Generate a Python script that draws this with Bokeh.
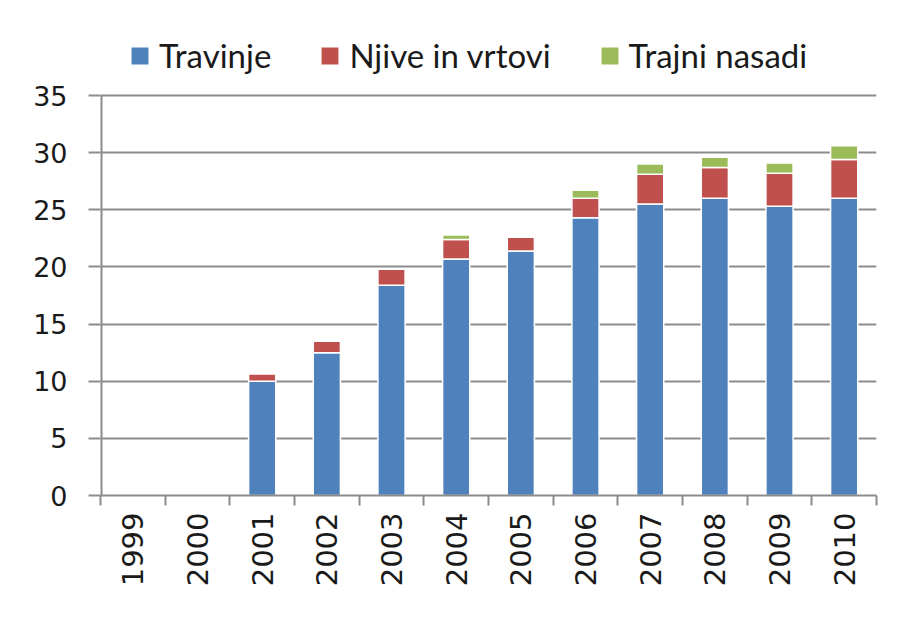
import numpy as np
from bokeh.plotting import figure
from bokeh.models import FixedTicker, Legend, LegendItem, Range1d, ColumnDataSource
from bokeh.embed import file_html
from bokeh.resources import INLINE

years = ["1999", "2000", "2001", "2002", "2003", "2004", "2005", "2006", "2007", "2008", "2009", "2010"]
travinje = [0, 0, 10.0, 12.5, 18.4, 20.7, 21.4, 24.3, 25.5, 26.0, 25.3, 26.0]
njive = [0, 0, 0.65, 1.0, 1.4, 1.7, 1.2, 1.7, 2.6, 2.7, 2.9, 3.4]
trajni = [0, 0, 0, 0, 0, 0.4, 0, 0.7, 0.9, 0.9, 0.9, 1.2]
series = ["Travinje", "Njive in vrtovi", "Trajni nasadi"]
colors = ["#4F81BD", "#C0504D", "#9BBB59"]
y_ticks = [0, 5, 10, 15, 20, 25, 30, 35]

xpos = [i + 0.5 for i in range(len(years))]
src = ColumnDataSource(dict(x=xpos, travinje=travinje, njive=njive, trajni=trajni))

# frame extends above the 35 line to hold the legend (65 px above it, 400 px for 0..35)
y_top = y_ticks[-1] * (400 + 65) / 400
p = figure(width=898, height=615, x_range=Range1d(0, len(years)), y_range=Range1d(0, y_top),
           output_backend="svg", toolbar_location=None,
           min_border_left=100, min_border_right=22, min_border_top=30, min_border_bottom=120)
p.outline_line_color = None
p.background_fill_color = "white"
p.border_fill_color = "white"

grey = "#8c8c8c"
# vertical axis line only from 0 to 35
p.segment(x0=[0], y0=[y_ticks[0]], x1=[0], y1=[y_ticks[-1]], line_color=grey, line_width=4)

rs = p.vbar_stack(["travinje", "njive", "trajni"], x="x", width=0.42, color=colors,
                  line_color="white", line_width=1.5, source=src)

legend = Legend(items=[LegendItem(label=s, renderers=[r]) for s, r in zip(series, rs)],
                orientation="horizontal", location=(28, 420),
                label_text_font="Lato", label_text_font_size="33px", label_text_color="#1a1a1a",
                label_standoff=8, spacing=47, glyph_width=23, glyph_height=23,
                padding=0, margin=0, border_line_alpha=0, background_fill_alpha=0)
p.add_layout(legend)

p.xgrid.visible = False
p.ygrid.grid_line_color = grey
p.ygrid.grid_line_width = 2

p.yaxis.ticker = FixedTicker(ticks=y_ticks)
p.yaxis.axis_line_color = None
p.yaxis.major_tick_line_color = grey
p.yaxis.major_tick_line_width = 2
p.yaxis.major_tick_out = 12
p.yaxis.major_tick_in = 0
p.yaxis.minor_tick_line_color = None
p.yaxis.major_label_standoff = 21
p.yaxis.major_label_text_font = "DejaVu Sans"
p.yaxis.major_label_text_font_size = "27px"
p.yaxis.major_label_text_color = "#1a1a1a"

p.xaxis.ticker = FixedTicker(ticks=xpos, minor_ticks=list(range(len(years) + 1)))
p.xaxis.major_label_overrides = {x: y for x, y in zip(xpos, years)}
p.xaxis.major_label_orientation = np.pi / 2
p.xaxis.axis_line_color = grey
p.xaxis.axis_line_width = 2
p.xaxis.major_tick_out = 0
p.xaxis.major_tick_in = 0
p.xaxis.major_tick_line_color = None
p.xaxis.minor_tick_out = 10
p.xaxis.minor_tick_in = 0
p.xaxis.minor_tick_line_color = grey
p.xaxis.minor_tick_line_width = 2
p.xaxis.major_label_standoff = 7
p.xaxis.major_label_text_font = "DejaVu Sans"
p.xaxis.major_label_text_font_size = "29px"
p.xaxis.major_label_text_color = "#1a1a1a"

open("out.html", "w").write(file_html(p, INLINE))
